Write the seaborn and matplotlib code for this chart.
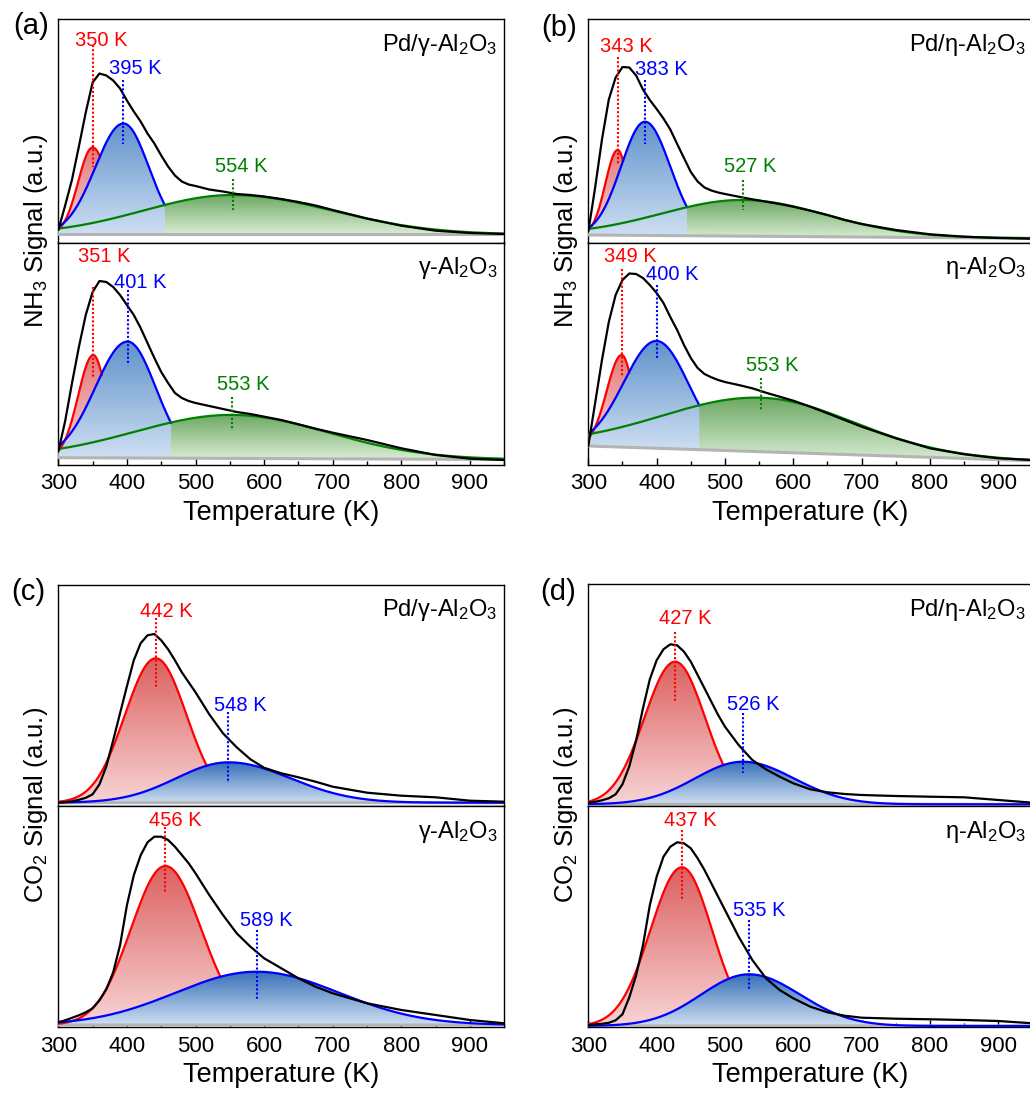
import numpy as np
import matplotlib
matplotlib.use("Agg")
import matplotlib.pyplot as plt
from matplotlib.ticker import MultipleLocator
import seaborn as sns

sns.set_theme(style="white")
plt.rcParams["font.family"] = ["Liberation Sans", "DejaVu Sans"]
plt.rcParams["mathtext.default"] = "regular"
for key in ("axes.edgecolor", "text.color", "axes.labelcolor", "xtick.color", "ytick.color"):
    plt.rcParams[key] = "black"

# ---------------------------------------------------------------- data
# temperatures (K) at which the measured TPD traces are sampled
temps = [300, 310, 320, 330, 340, 350, 360, 370, 380, 390, 400, 410, 420, 430, 440,
         450, 460, 470, 480, 490, 500, 520, 540, 560, 580, 600, 625, 650, 675, 700,
         750, 800, 850, 900, 950]

# measured desorption signal (a.u.)
nh3_pd_gamma = [12.5, 37, 63, 96, 130, 160, 169, 167, 162, 154, 142, 131, 121, 109, 99,
                87, 76, 67, 61, 58, 56.5, 53, 51, 48.5, 47.5, 46, 43.5, 40.5, 37, 32.5,
                24, 16.8, 11.8, 9.5, 8.5]
nh3_gamma = [13.3, 44, 82, 118, 150, 173, 184, 183, 178, 170, 160, 150, 137, 122, 107,
             93, 82, 72, 67, 64, 62, 59, 56, 53, 51, 48.3, 45, 40.7, 36.3, 32.3,
             25, 16.7, 10, 6.3, 5]
nh3_pd_eta = [10.8, 55, 103, 143, 165, 175.5, 175, 167, 153, 142.5, 133.5, 124, 113, 98.5, 84.5,
              70.5, 61, 55, 52, 50, 48.5, 45.8, 43.2, 40.8, 38.5, 35.8, 31.8, 27.5, 22.5, 18.5,
              12.5, 8.2, 5.8, 4.5, 3.8]
nh3_eta = [19, 62, 105, 143, 170, 185, 191.5, 191, 187, 180, 172, 162, 148, 135, 120,
           107, 97, 91, 87.7, 85, 83, 80, 76.7, 72.3, 68.3, 64.3, 58.3, 51.7, 45, 38.3,
           26.7, 16.7, 10.7, 6.7, 5]
co2_pd_gamma = [3.6, 4, 5, 6.5, 8.5, 12, 22, 40, 66, 93, 120, 146, 163, 171, 172.3,
                166, 157, 146, 134, 124, 114, 92, 73, 59, 47, 38.5, 33, 29, 24.6, 19.6,
                13.6, 10.6, 9, 5.6, 4.6]
co2_gamma = [5, 7, 9.5, 12, 15, 19, 27, 38, 55, 82, 122, 152, 172, 185, 190.6,
             190.6, 187.3, 180.6, 172.3, 164, 154, 132.3, 112.3, 94, 80.6, 69, 59, 49, 40.6, 34,
             24, 17.3, 12.3, 7.3, 4]
co2_pd_eta = [3.6, 4.5, 6, 8, 12, 22, 40, 66, 98, 127, 146, 157, 162, 161, 154.6,
              144.6, 131.3, 118, 104.6, 91.3, 79.6, 61.3, 46.3, 37, 29.6, 23, 17, 14, 12.3, 11.3,
              10.3, 9.6, 9, 6.3, 3.6]
co2_eta = [2.3, 3, 3.5, 4.5, 7, 13, 30, 52, 82, 122, 150.6, 170.6, 180.6, 185, 184,
           179, 169, 157.3, 144, 130.6, 117.3, 90.6, 67.3, 49, 37.3, 29, 20.6, 15, 11.6, 9.6,
           8.6, 8, 7.3, 6.3, 4]

# fitted Gaussian components: peak temperature (K), height, low/high-side width (K)
# and the linear background (value at 300 K, value at 950 K)
nh3_pd_gamma_peaks = [350, 395, 554]
nh3_pd_gamma_heights = [87, 111, 39.5]
nh3_pd_gamma_sig_lo = [21, 41, 130]
nh3_pd_gamma_sig_hi = [23, 37, 145]
nh3_pd_gamma_bg = [8, 8]

nh3_gamma_peaks = [351, 401, 553]
nh3_gamma_heights = [102.8, 116.4, 43.5]
nh3_gamma_sig_lo = [22, 47, 141]
nh3_gamma_sig_hi = [19, 41, 140]
nh3_gamma_bg = [7.3, 5.5]

nh3_pd_eta_peaks = [343, 383, 527]
nh3_pd_eta_heights = [85.2, 113.7, 36.2]
nh3_pd_eta_sig_lo = [18, 35, 120]
nh3_pd_eta_sig_hi = [15, 37, 121]
nh3_pd_eta_bg = [7.5, 4.2]

nh3_eta_peaks = [349, 400, 553]
nh3_eta_heights = [92.1, 107.3, 54]
nh3_eta_sig_lo = [22, 48, 145]
nh3_eta_sig_hi = [17, 47, 134]
nh3_eta_bg = [19, 4.3]

co2_pd_gamma_peaks = [442, 548]
co2_pd_gamma_heights = [144.4, 40.4]
co2_pd_gamma_sig_lo = [45, 76]
co2_pd_gamma_sig_hi = [45, 90]
co2_pd_gamma_bg = [3.6, 3.6]

co2_gamma_peaks = [456, 589]
co2_gamma_heights = [159, 53.3]
co2_gamma_sig_lo = [50, 118]
co2_gamma_sig_hi = [52, 120]
co2_gamma_bg = [2.3, 2.3]

co2_pd_eta_peaks = [427, 526]
co2_pd_eta_heights = [142.6, 42.6]
co2_pd_eta_sig_lo = [45, 70]
co2_pd_eta_sig_hi = [44, 75]
co2_pd_eta_bg = [2, 2]

co2_eta_peaks = [437, 535]
co2_eta_heights = [158.7, 51.7]
co2_eta_sig_lo = [46, 70]
co2_eta_sig_hi = [44, 75]
co2_eta_bg = [1.3, 1.3]

sample_names = {
    "pd_gamma": "Pd/\u03b3-Al$_2$O$_3$",
    "gamma": "\u03b3-Al$_2$O$_3$",
    "pd_eta": "Pd/\u03b7-Al$_2$O$_3$",
    "eta": "\u03b7-Al$_2$O$_3$",
}

# ---------------------------------------------------------------- layout
W, H = 1030, 1095
fig = plt.figure(figsize=(W / 100, H / 100), dpi=100)

LINE_COLORS = ["#ff0000", "#0000ff", "#008000"]
# gradient colours (top of each peak -> background) for the NH3 and CO2 panels
FILL_TOP = {
    "nh3": [(226, 122, 122), (96, 146, 204), (108, 168, 98)],
    "co2": [(220, 96, 96), (54, 112, 184), (108, 168, 98)],
}
FILL_BOTTOM = [(248, 212, 212), (206, 223, 241), (216, 236, 210)]
FILL_Z = [2, 3, 1]


def frac_rect(left, top, width, bottom):
    return [left / W, 1 - bottom / H, width / W, (bottom - top) / H]


def gradient_fill(ax, x, lower, upper, top_rgb, bottom_rgb, zorder):
    poly = ax.fill_between(x, lower, upper, facecolor="none", edgecolor="none")
    t = np.linspace(0, 1, 256)[:, None]
    img = (np.array(bottom_rgb)[None, :] * (1 - t) + np.array(top_rgb)[None, :] * t) / 255.0
    im = ax.imshow(img[:, None, :], extent=[x[0], x[-1], lower.min(), upper.max()],
                   origin="lower", aspect="auto", interpolation="bilinear", zorder=zorder)
    im.set_clip_path(poly.get_paths()[0], transform=ax.transData)


def draw_tpd(ax, gas, total, peaks, heights, sig_lo, sig_hi, bg, name, label_xy, spans,
             height_px, show_x):
    tt = np.arange(300, 950.5, 0.5)
    base = bg[0] + (bg[1] - bg[0]) * (tt - 300) / 650.0
    comps = []
    for c, a, sl, sh in zip(peaks, heights, sig_lo, sig_hi):
        sig = np.where(tt < c, sl, sh)
        comps.append(base + a * np.exp(-(tt - c) ** 2 / (2 * sig ** 2)))
    n = len(comps)
    for i, (c, comp) in enumerate(zip(peaks, comps)):
        end = len(tt)
        if i < n - 1:
            idx = np.where((tt > c) & (comp < comps[i + 1]))[0]
            if len(idx):
                end = idx[0] + 1
        x, y, b = tt[:end], comp[:end], base[:end]
        gradient_fill(ax, x, b, y, FILL_TOP[gas][i], FILL_BOTTOM[i], FILL_Z[i])
        ax.plot(x, y, color=LINE_COLORS[i], lw=1.6, zorder=5, solid_capstyle="round")
    ax.plot(tt, base, color="#b4b4b4", lw=2.2, zorder=4)
    sns.lineplot(x=temps, y=total, ax=ax, color="black", lw=1.6, zorder=6,
                 estimator=None, sort=False)
    for i, c in enumerate(peaks):
        ax.plot([c, c], spans[i], color=LINE_COLORS[i], lw=1.5, ls=(0, (1, 1)), zorder=7)
        ax.text(label_xy[i][0], label_xy[i][1], f"{c} K", color=LINE_COLORS[i],
                ha="center", va="center", fontsize=14.5, zorder=8)
    ax.text(0.985, 0.858, sample_names[name], transform=ax.transAxes, ha="right",
            va="baseline", fontsize=17)
    ax.set_xlim(300, 950)
    ax.set_ylim(0, height_px)
    ax.set_yticks([])
    ax.set_ylabel("")
    ax.set_xlabel("")
    for sp in ax.spines.values():
        sp.set_linewidth(1.0)
        sp.set_color("black")
    ax.set_xticks(range(300, 1000, 100))
    ax.xaxis.set_minor_locator(MultipleLocator(50))
    if show_x:
        ax.tick_params(axis="x", which="major", bottom=True, direction="in", length=5,
                       width=1.0, labelsize=16, pad=6)
        ax.tick_params(axis="x", which="minor", bottom=True, direction="in", length=3,
                       width=1.0)
        ax.set_xlabel("Temperature (K)", fontsize=19.5, labelpad=4)
    else:
        ax.tick_params(axis="x", which="both", bottom=False, labelbottom=False)


# pixel geometry of the four stacked panels
AL, AW = 58.3, 446.0
BL, BW = 588.3, 444.2

subplots = [
    # (rect, gas, total, peaks, heights, sig_lo, sig_hi, bg, name, label_xy, spans, show_x)
    (frac_rect(AL, 19, AW, 242.5), "nh3", nh3_pd_gamma, nh3_pd_gamma_peaks, nh3_pd_gamma_heights,
     nh3_pd_gamma_sig_lo, nh3_pd_gamma_sig_hi, nh3_pd_gamma_bg, "pd_gamma",
     [(363, 202.5), (412, 174), (567, 76)], [(197.5, 76), (162.5, 99), (64, 32.5)], False),
    (frac_rect(AL, 242.5, AW, 465), "nh3", nh3_gamma, nh3_gamma_peaks, nh3_gamma_heights,
     nh3_gamma_sig_lo, nh3_gamma_sig_hi, nh3_gamma_bg, "gamma",
     [(366.5, 208), (419, 182), (569.5, 80)], [(178, 88), (175, 102), (68, 35)], True),
    (frac_rect(BL, 19, BW, 242.5), "nh3", nh3_pd_eta, nh3_pd_eta_peaks, nh3_pd_eta_heights,
     nh3_pd_eta_sig_lo, nh3_pd_eta_sig_hi, nh3_pd_eta_bg, "pd_eta",
     [(356, 196.5), (407.5, 173), (537.5, 76)], [(186, 77.5), (162.5, 99), (62.5, 32.5)], False),
    (frac_rect(BL, 242.5, BW, 465), "nh3", nh3_eta, nh3_eta_peaks, nh3_eta_heights,
     nh3_eta_sig_lo, nh3_eta_sig_hi, nh3_eta_bg, "eta",
     [(361, 209), (423.5, 190.5), (568.5, 99)], [(196.5, 88), (180, 106.5), (86.5, 55)], True),
    (frac_rect(AL, 585, AW, 806.3), "co2", co2_pd_gamma, co2_pd_gamma_peaks, co2_pd_gamma_heights,
     co2_pd_gamma_sig_lo, co2_pd_gamma_sig_hi, co2_pd_gamma_bg, "pd_gamma",
     [(458, 194.5), (565, 101)], [(188, 118), (94.5, 23)], False),
    (frac_rect(AL, 806.3, AW, 1027.3), "co2", co2_gamma, co2_gamma_peaks, co2_gamma_heights,
     co2_gamma_sig_lo, co2_gamma_sig_hi, co2_gamma_bg, "gamma",
     [(471, 207), (603.5, 107)], [(200.5, 134), (97, 27)], True),
    (frac_rect(BL, 584.3, BW, 806.3), "co2", co2_pd_eta, co2_pd_eta_peaks, co2_pd_eta_heights,
     co2_pd_eta_sig_lo, co2_pd_eta_sig_hi, co2_pd_eta_bg, "pd_eta",
     [(441.5, 188), (541.5, 102)], [(174.5, 104.5), (93, 33)], False),
    (frac_rect(BL, 806.3, BW, 1027.3), "co2", co2_eta, co2_eta_peaks, co2_eta_heights,
     co2_eta_sig_lo, co2_eta_sig_hi, co2_eta_bg, "eta",
     [(449, 207), (550, 116.5)], [(197, 127), (107, 37)], True),
]

for rect, gas, total, peaks, heights, sl, sh, bg, name, lxy, spans, show_x in subplots:
    ax = fig.add_axes(rect)
    height_px = rect[3] * H
    draw_tpd(ax, gas, total, peaks, heights, sl, sh, bg, name, lxy, spans, height_px, show_x)

# shared y-axis titles and panel letters
fig.text(36 / W, 1 - 231 / H, "NH$_3$ Signal (a.u.)", rotation=90, ha="center",
         va="center", fontsize=18.5)
fig.text(566 / W, 1 - 231 / H, "NH$_3$ Signal (a.u.)", rotation=90, ha="center",
         va="center", fontsize=18.5)
fig.text(36 / W, 1 - 805 / H, "CO$_2$ Signal (a.u.)", rotation=90, ha="center",
         va="center", fontsize=18.5)
fig.text(566 / W, 1 - 805 / H, "CO$_2$ Signal (a.u.)", rotation=90, ha="center",
         va="center", fontsize=18.5)
for letter, (px, py) in zip(["(a)", "(b)", "(c)", "(d)"],
                            [(31, 26), (559, 28), (28, 592), (558, 592)]):
    fig.text(px / W, 1 - py / H, letter, ha="center", va="center", fontsize=21)

fig.savefig("out.png", dpi=100)
